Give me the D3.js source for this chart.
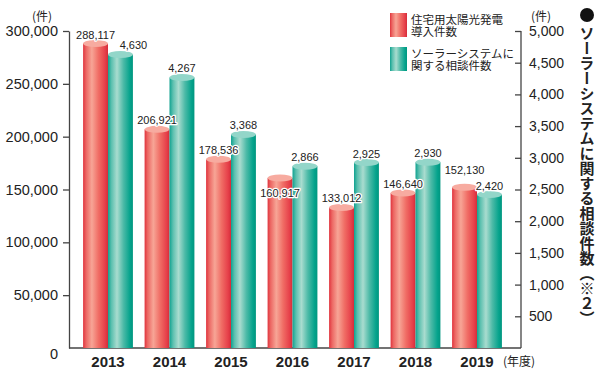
<!DOCTYPE html>
<html><head><meta charset="utf-8">
<script src="https://cdn.jsdelivr.net/npm/d3@7"></script>
<style>
html,body{margin:0;padding:0;background:#fff;}
svg{display:block;}
</style></head>
<body>
<svg id="chart" width="602" height="378"></svg>
<script>
// ---- data ----
const years = ["2013","2014","2015","2016","2017","2018","2019"];
const installs = [288117, 206921, 178536, 160917, 133012, 146640, 152130];
const consults = [4630, 4267, 3368, 2866, 2925, 2930, 2420];
const leftTicks = [0, 50000, 100000, 150000, 200000, 250000, 300000];
const rightTicks = [500, 1000, 1500, 2000, 2500, 3000, 3500, 4000, 4500, 5000];
const seriesNames = ["住宅用太陽光発電\n導入件数", "ソーラーシステムに\n関する相談件数"];
const unitLabel = "(件)";
const yearUnit = "(年度)";
const rightTitle = "ソーラーシステムに関する相談件数（※２）";

const svg = d3.select("#chart");
const numFont = "'Liberation Sans', Arial, sans-serif";
const jpFont = "'Noto Sans CJK JP', sans-serif";

const x0 = d3.scaleBand().domain(years).range([77.25, 507.75]).paddingInner(0.19).paddingOuter(0.095);
const x1 = d3.scaleBand().domain([0,1]).range([0, x0.bandwidth()]);
const yL = d3.scaleLinear().domain([0, 300000]).range([348, 31]);
const yR = d3.scaleLinear().domain([0, 5000]).range([348, 31]);

// gradients
const defs = svg.append("defs");
function grad(id, stops){
  const g = defs.append("linearGradient").attr("id", id).attr("x1","0").attr("x2","1").attr("y1","0").attr("y2","0");
  stops.forEach(s => g.append("stop").attr("offset", s[0]).attr("stop-color", s[1]));
}
grad("gRed", [[0,"#e0333d"],[0.12,"#ec6763"],[0.35,"#f7a596"],[0.62,"#f06d65"],[0.88,"#e6404a"],[1,"#d42d3a"]]);
grad("gTeal", [[0,"#10a290"],[0.14,"#5cc0af"],[0.36,"#a9dccf"],[0.62,"#4cbaa7"],[0.88,"#05a38c"],[1,"#00967f"]]);
const fills = ["url(#gRed)", "url(#gTeal)"];
const tops = ["#f7aba0", "#93d6c9"];

// axes
const axisColor = "#444";
const gL = svg.append("g").attr("transform","translate(69,0)")
  .call(d3.axisLeft(yL).tickValues(leftTicks).tickFormat(d3.format(",")).tickSizeInner(6).tickSizeOuter(0).tickPadding(5));
gL.selectAll("text").attr("font-family", numFont).attr("font-size", 14.5).attr("fill","#222");
gL.selectAll("line, path").attr("stroke", axisColor).attr("stroke-width", 1.3);
gL.selectAll(".tick").filter(d => d === 0).select("line").remove();
gL.selectAll(".tick").filter(d => d === 0).select("text").attr("dy", "0.75em");

const gR = svg.append("g").attr("transform","translate(521,0)")
  .call(d3.axisRight(yR).tickValues(rightTicks).tickFormat(d3.format(",")).tickSizeInner(-6).tickSizeOuter(0).tickPadding(8));
gR.selectAll("text").attr("font-family", numFont).attr("font-size", 14).attr("fill","#222");
gR.selectAll("line, path").attr("stroke", axisColor).attr("stroke-width", 1.3);
gR.select(".domain").attr("d", `M0,${yR(5000)}V${yR(0)}`);

// baseline
svg.append("line").attr("x1", 69).attr("x2", 521).attr("y1", yL(0)).attr("y2", yL(0))
  .attr("stroke", axisColor).attr("stroke-width", 1.3);

// bars
const rows = [];
years.forEach((yr, i) => {
  rows.push({yr, s:0, v: installs[i], y: yL(installs[i])});
  rows.push({yr, s:1, v: consults[i], y: yR(consults[i])});
});
const barG = svg.append("g");
const bg = barG.selectAll("g").data(rows).join("g")
  .attr("transform", d => `translate(${x0(d.yr) + x1(d.s)},0)`);
bg.append("rect").attr("x", 0).attr("width", x1.bandwidth()).attr("y", d => d.y)
  .attr("height", d => yL(0) - d.y).attr("fill", d => fills[d.s]);
bg.append("ellipse").attr("cx", x1.bandwidth()/2).attr("cy", d => d.y)
  .attr("rx", x1.bandwidth()/2).attr("ry", 3.5).attr("fill", d => tops[d.s]);

// value labels
const nudge = {"2013-1": [13, 0], "2016-0": [0, 24], "2019-0": [0, -8]};
const fmt = d3.format(",");
svg.append("g").selectAll("text").data(rows).join("text")
  .attr("x", d => x0(d.yr) + x1(d.s) + x1.bandwidth()/2 + (nudge[d.yr+"-"+d.s] || [0,0])[0])
  .attr("y", d => d.y - 5 + (nudge[d.yr+"-"+d.s] || [0,0])[1])
  .attr("text-anchor", "middle").attr("font-family", numFont).attr("font-size", 11)
  .attr("fill", "#222").attr("stroke", "#fff").attr("stroke-width", 2.5).attr("paint-order", "stroke")
  .attr("stroke-linejoin", "round")
  .text(d => fmt(d.v));

// x labels
svg.append("g").selectAll("text").data(years).join("text")
  .attr("x", d => x0(d) + x0.bandwidth()/2).attr("y", 367)
  .attr("text-anchor", "middle").attr("font-family", numFont).attr("font-weight", "bold")
  .attr("font-size", 15).attr("fill", "#222").text(d => d);
svg.append("text").attr("x", 503).attr("y", 366).attr("font-family", jpFont).attr("font-size", 12)
  .attr("fill", "#222").text(yearUnit);

// unit labels
svg.append("text").attr("x", 42).attr("y", 21).attr("text-anchor","middle").attr("font-family", jpFont)
  .attr("font-size", 12).attr("fill","#222").text(unitLabel);
svg.append("text").attr("x", 541).attr("y", 21).attr("text-anchor","middle").attr("font-family", jpFont)
  .attr("font-size", 12).attr("fill","#222").text(unitLabel);

// legend
const leg = svg.append("g");
seriesNames.forEach((name, i) => {
  const yTop = 13 + i * 34;
  leg.append("rect").attr("x", 390).attr("y", yTop).attr("width", 17).attr("height", 24).attr("fill", fills[i]);
  const t = leg.append("text").attr("font-family", jpFont).attr("font-size", 11.5).attr("fill", "#222");
  name.split("\n").forEach((line, j) => {
    t.append("tspan").attr("x", 411).attr("y", yTop + 11 + j * 12).text(line);
  });
});

// right vertical title
svg.append("circle").attr("cx", 587).attr("cy", 15).attr("r", 7).attr("fill", "#111");
svg.append("text").attr("x", 587).attr("y", 26)
  .style("writing-mode", "vertical-rl")
  .attr("font-family", jpFont).attr("font-weight", "bold").attr("font-size", 15)
  .attr("fill", "#222").text(rightTitle);
</script>
</body></html>
